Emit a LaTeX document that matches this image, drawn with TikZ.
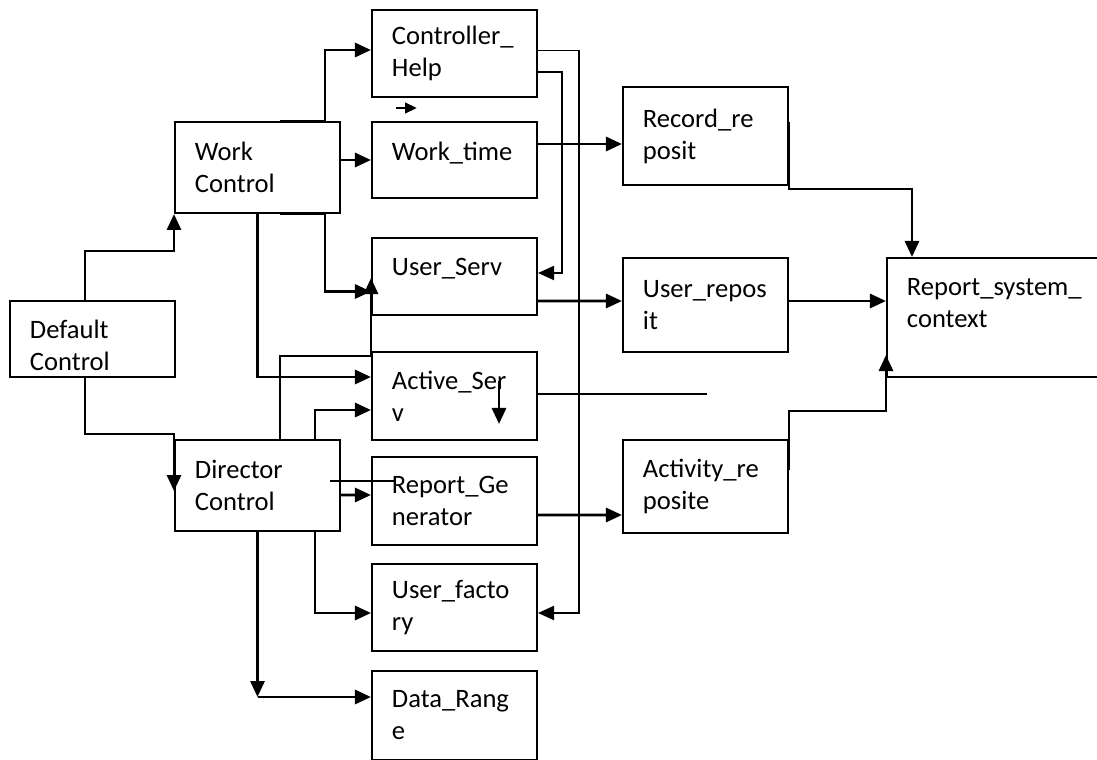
\documentclass[tikz,border=0pt]{standalone}
\usepackage{fontspec}
\setmainfont{Carlito}
\usepackage{tikz}
\usetikzlibrary{arrows.meta,calc}
\hyphenpenalty=10000

\begin{document}
\begin{tikzpicture}[
    x=0.025cm, y=-0.025cm,
    box/.style={
        rectangle, draw=black, line width=1.4pt,
        minimum width=4.125cm, text width=3.125cm,
        inner xsep=0.5cm, align=left,
        font=\fontsize{18.9pt}{22.7pt}\selectfont
    },
    oneline/.style={text depth=13pt},
    arrow/.style={-{Triangle[length=4mm,width=3.5mm]}, line width=2.1pt, black},
    tarrow/.style={-{Triangle[length=4mm,width=3.5mm]}, line width=1.4pt, black},
    tline/.style={line width=1.4pt, black}
]
\clip (0,0) rectangle (1097,760);

% Left column
\node[box, minimum height=1.9cm, text depth=14pt] (dflt) at (92.5,339) {Default\\Control};
\node[box, minimum height=2.275cm] (work) at (257.5,167.5) {Work\\Control};
\node[box, minimum height=2.275cm] (dir) at (257.5,485.5) {Director\\Control};

% Middle column
\node[box, minimum height=2.175cm] (help) at (454.5,53.5) {Controller\_\\Help};
\node[box, oneline, minimum height=1.9cm] (wtime) at (454.5,160) {Work\_time};
\node[box, oneline, minimum height=1.925cm] (userv) at (454.5,276.5) {User\_Serv};
\node[box, minimum height=2.2cm] (actserv) at (454.5,396) {Active\_Ser\\v};
\node[box, minimum height=2.2cm] (repgen) at (454.5,501) {Report\_Ge\\nerator};
\node[box, minimum height=2.175cm] (ufact) at (454.5,607.5) {User\_facto\\ry};
\node[box, minimum height=2.225cm] (drange) at (454.5,715.5) {Data\_Rang\\e};

% Repositories
\node[box, minimum height=2.45cm] (record) at (705.5,136) {Record\_re\\posit};
\node[box, minimum height=2.35cm] (urepo) at (705.5,305) {User\_repos\\it};
\node[box, minimum height=2.325cm] (actrepo) at (705.5,486.5) {Activity\_re\\posite};

% Right: report system
\node[box, minimum width=5.825cm, text width=4.825cm, minimum height=2.975cm,
    text depth=44pt] (rsys) at (1003.5,317.5) {Report\_system\_\\context};

% Arrows from the controls
\draw[arrow] ($(dflt.north)+(-7.5,0)$) |- ($(work.south west)+(0,37)$) -- (work.south west);
\draw[arrow] ($(dflt.south)+(-7.5,0)$) |- ($(dir.north west)+(0,-5)$) -- ($(dir.north west)+(0,52)$);
\draw[arrow] ($(work.north)+(22.5,0)$) -- ($(work.north)+(67.5,0)$) |- ($(help.west)+(0,-3.5)$);
\draw[arrow] (work.east |- wtime.west) -- (wtime.west);
\draw[arrow] ($(work.south)+(22.5,0)$) -- ($(work.south)+(67.5,0)$) |- ($(userv.west)+(0,15)$);
\draw[arrow] (work.south) |- ($(actserv.west)+(0,-19)$);
\draw[arrow] ($(dir.north)+(22.5,0)$) |- ($(actserv.north west)+(0,5)$) -- ($(userv.west)+(0,1.5)$);
\draw[arrow] ($(dir.north)+(57.5,0)$) |- ($(actserv.west)+(0,14)$);
\draw[arrow] ($(dir.east)+(0,9.5)$) -- ($(repgen.west)+(0,-6)$);
\draw[arrow] ($(dir.south)+(57.5,0)$) |- ($(ufact.west)+(0,5.5)$);
\draw[arrow] (dir.south) -- ($(dir.south |- drange.west)+(0,-18.5)$);
\draw[arrow] ($(dir.south |- drange.west)+(0,-18.5)$) -- ($(drange.west)+(0,-18.5)$);

% Controller_Help back to the services
\draw[tarrow] ($(help.east)+(0,-3)$) -- ++(41,0) |- ($(ufact.east)+(0,5.5)$);
\draw[tarrow] ($(help.east)+(0,18.5)$) -- ++(24,0) |- ($(userv.east)+(0,-3.5)$);

% To the repositories
\draw[arrow] ($(wtime.east)+(0,-16)$) -- ($(record.west)+(0,8)$);
\draw[arrow] ($(userv.east)+(0,24.5)$) -- ($(urepo.west)+(0,-4)$);
\draw[arrow] ($(repgen.east)+(0,14)$) -- ($(actrepo.west)+(0,28.5)$);

% To the report system
\draw[arrow] ($(record.east)+(0,-14)$) |- ($(rsys.north west)+(26,-68)$) -- ($(rsys.north west)+(26,0)$);
\draw[arrow] ($(urepo.east)+(0,-4)$) -- ($(rsys.west)+(0,-16.5)$);
\draw[arrow] ($(actrepo.east)+(0,-16.5)$) |- ($(rsys.south west)+(0,33)$) -- ($(rsys.south west)+(0,-23)$);

% Loose marks
\coordinate (s1) at (396,108);
\coordinate (s2) at (417,108);
\draw[-{Triangle[length=3mm,width=2.6mm]}, line width=2pt] (s1) -- (s2);
\coordinate (a1) at (499,381);
\coordinate (a2) at (499,424);
\draw[arrow] (a1) -- (a2);
\coordinate (loose) at (707,394);
\draw[tline] ($(actserv.east)+(0,-2)$) -- (loose);
\coordinate (m1) at (330,481);
\coordinate (m2) at (395,481);
\draw[tline] (m1) -- (m2);
\end{tikzpicture}
\end{document}
